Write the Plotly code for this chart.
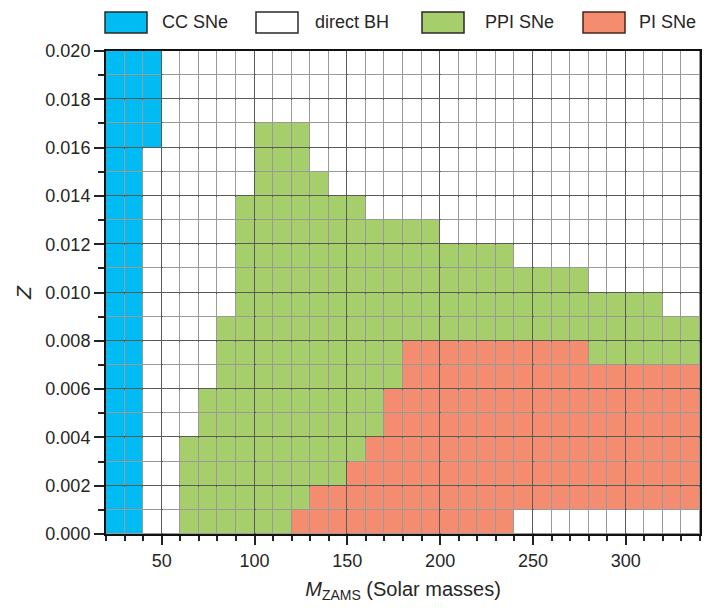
import math
import plotly.graph_objects as go

# ---------------- data ----------------
# mass bins (lower edges, solar masses), width 10
mass_lo = [20, 30, 40, 50, 60, 70, 80, 90, 100, 110, 120, 130, 140, 150, 160, 170,
           180, 190, 200, 210, 220, 230, 240, 250, 260, 270, 280, 290, 300, 310, 320, 330]
mass_width = 10
# metallicity bins (lower edges), width 0.001
z_lo = [0.000, 0.001, 0.002, 0.003, 0.004, 0.005, 0.006, 0.007, 0.008, 0.009,
        0.010, 0.011, 0.012, 0.013, 0.014, 0.015, 0.016, 0.017, 0.018, 0.019]
z_width = 0.001

# CC SNe: present from this Z upward (None = absent)
cc_from = [0.000, 0.000, 0.016] + [None] * 29
# PPI SNe: upper Z limit of the green region (0 = absent)
ppi_top = [0, 0, 0, 0, 0.004, 0.006, 0.009, 0.014, 0.017, 0.017, 0.017, 0.015,
           0.014, 0.014, 0.013, 0.013, 0.013, 0.013, 0.012, 0.012, 0.012, 0.012,
           0.011, 0.011, 0.011, 0.011, 0.010, 0.010, 0.010, 0.010, 0.009, 0.009]
# PI SNe: lower / upper Z limits of the red region
pi_bottom = [0] * 22 + [0.001] * 10
pi_top = [0] * 10 + [0.001, 0.002, 0.002, 0.003, 0.004, 0.006] + [0.008] * 10 + [0.007] * 6

categories = ["CC SNe", "direct BH", "PPI SNe", "PI SNe"]
cat_code = {"direct BH": 0, "CC SNe": 1, "PPI SNe": 2, "PI SNe": 3}
colors = {"CC SNe": "#00BCF2", "direct BH": "#FFFFFF", "PPI SNe": "#A6CE6A", "PI SNe": "#F48C70"}
borders = {"CC SNe": "#2a2a2a", "direct BH": "#2a2a2a", "PPI SNe": "#2a2a2a", "PI SNe": "#4a2418"}

x_ticks = [50, 100, 150, 200, 250, 300]
y_ticks = [0.000, 0.002, 0.004, 0.006, 0.008, 0.010, 0.012, 0.014, 0.016, 0.018, 0.020]

# ---------------- build grid ----------------
xc = [m + mass_width / 2 for m in mass_lo]
yc = [z + z_width / 2 for z in z_lo]
zgrid = []
for zz in yc:
    row = []
    for i in range(len(mass_lo)):
        if cc_from[i] is not None and zz > cc_from[i]:
            row.append(cat_code["CC SNe"])
        elif pi_bottom[i] <= zz < pi_top[i]:
            row.append(cat_code["PI SNe"])
        elif pi_bottom[i] <= zz < ppi_top[i]:
            row.append(cat_code["PPI SNe"])
        else:
            row.append(cat_code["direct BH"])
    zgrid.append(row)

order = ["direct BH", "CC SNe", "PPI SNe", "PI SNe"]
cs = []
for k, name in enumerate(order):
    cs.append([k / 4, colors[name]])
    cs.append([(k + 1) / 4, colors[name]])

fig = go.Figure(go.Heatmap(
    x=xc, y=yc, z=zgrid, zmin=-0.5, zmax=3.5, colorscale=cs, showscale=False,
    xgap=1, ygap=1, hoverinfo="skip"))

FONT = "Liberation Sans, Arial, sans-serif"
# page body has an 8px default margin; figure sized/margined to compensate
fig.update_layout(
    width=705, height=602,
    margin=dict(l=98, r=13, t=43, b=76),
    paper_bgcolor="white", plot_bgcolor="#9a9a9a",
    font=dict(family=FONT, size=18, color="#262626"),
    showlegend=False,
)
fig.update_xaxes(
    range=[mass_lo[0], mass_lo[-1] + mass_width], tickvals=x_ticks,
    ticks="outside", ticklen=9, tickwidth=1.5, tickcolor="#222",
    minor=dict(dtick=10, tick0=0, ticks="outside", ticklen=5, tickwidth=1.5, tickcolor="#222", showgrid=False),
    showgrid=True, gridcolor="#5a5a5a", gridwidth=2,
    showline=True, mirror=True, linecolor="#111", linewidth=2,
    zeroline=False,
    title=dict(text="<i>M</i><sub>ZAMS</sub> (Solar masses)", font=dict(size=20), standoff=12),
)
fig.update_yaxes(
    range=[z_lo[0], z_lo[-1] + z_width], tickvals=y_ticks, tickformat=".3f",
    ticks="outside", ticklen=10, tickwidth=1.5, tickcolor="#222",
    minor=dict(dtick=0.001, tick0=0, ticks="outside", ticklen=6, tickwidth=1.5, tickcolor="#222", showgrid=False),
    showgrid=True, gridcolor="#5a5a5a", gridwidth=2,
    showline=True, mirror=True, linecolor="#111", linewidth=2,
    zeroline=False,
    title=dict(text="<i>Z</i>", font=dict(size=21), standoff=8),
)

# ---------------- custom legend (paper coords from pixel layout) ----------------
PX0, PX1, PY0, PY1 = 106, 700, 51, 534
def px(x):
    return (x - PX0) / (PX1 - PX0)
def py(y):
    return (PY1 - y) / (PY1 - PY0)

swatch_left = [105, 256, 422, 583]
text_left = [160, 313, 483, 637]
for name, sx, tx in zip(categories, swatch_left, text_left):
    fig.add_shape(type="rect", xref="paper", yref="paper",
                  x0=px(sx), x1=px(sx + 42), y0=py(33), y1=py(12),
                  fillcolor=colors[name], line=dict(color=borders[name], width=1.5))
    fig.add_annotation(xref="paper", yref="paper", x=px(tx), y=py(21.5),
                       xanchor="left", yanchor="middle", text=name, showarrow=False,
                       font=dict(size=18, color="#262626"))

fig.write_html("out.html")
